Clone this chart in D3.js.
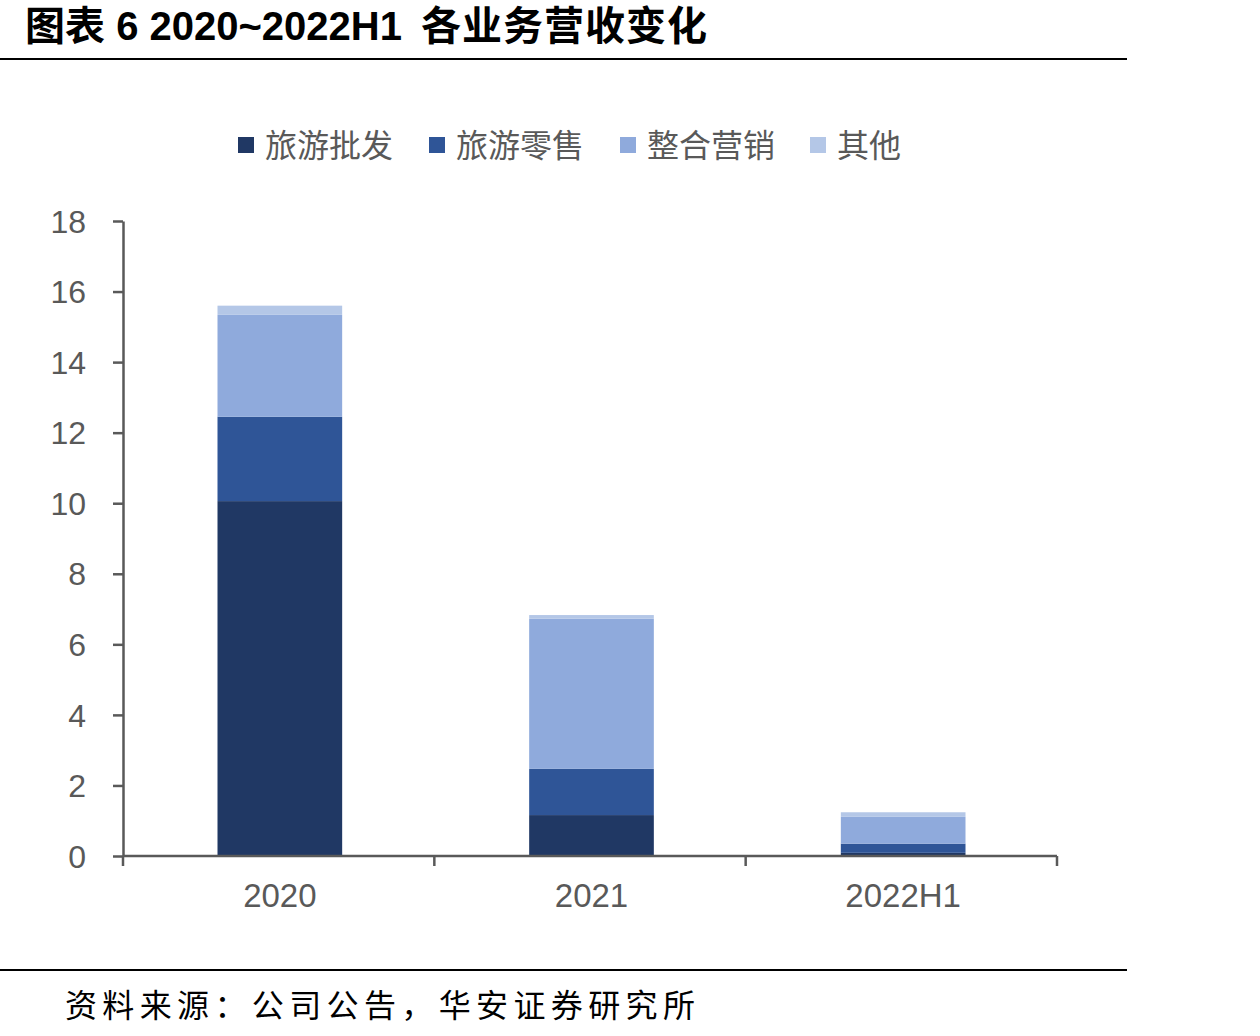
<!DOCTYPE html>
<html><head><meta charset="utf-8">
<script src="https://cdn.jsdelivr.net/npm/d3@7"></script>
<style>body{margin:0;background:#fff}svg{display:block}</style>
</head><body>
<svg id="c" width="1260" height="1036"></svg>
<script>
const categories = ["2020", "2021", "2022H1"];
const seriesNames = ["旅游批发", "旅游零售", "整合营销", "其他"];
const wholesale = [10.06, 1.16, 0.09];
const retail = [2.39, 1.31, 0.26];
const marketing = [2.89, 4.26, 0.76];
const other = [0.26, 0.10, 0.13];
const yTicks = [0, 2, 4, 6, 8, 10, 12, 14, 16, 18];
const colors = ["#203864", "#2F5597", "#8FAADC", "#B4C7E7"];

const svg = d3.select("#c");
const cjk = "'Noto Sans CJK SC', sans-serif";
const axisColor = "#595959";

// title
const title = svg.append("text").attr("x", 25).attr("y", 40)
  .attr("font-family", "'Liberation Sans', Arial, " + cjk).attr("font-weight", "bold")
  .attr("font-size", 40).attr("fill", "#000");
title.append("tspan").text("图表 ");
title.append("tspan").text("6 2020~2022H1 ");
title.append("tspan").attr("dx", 8).attr("letter-spacing", 1).text("各业务营收变化");
svg.append("line").attr("x1", 0).attr("x2", 1127).attr("y1", 59).attr("y2", 59)
  .attr("stroke", "#000").attr("stroke-width", 2);
svg.append("line").attr("x1", 0).attr("x2", 1127).attr("y1", 970).attr("y2", 970)
  .attr("stroke", "#000").attr("stroke-width", 2);
svg.append("text").attr("x", 65).attr("y", 1017)
  .attr("font-family", cjk).attr("font-size", 32).attr("fill", "#000")
  .attr("textLength", 630).attr("lengthAdjust", "spacing")
  .text("资料来源：公司公告，华安证券研究所");

const data = categories.map((c, i) => ({cat: c, s0: wholesale[i], s1: retail[i], s2: marketing[i], s3: other[i]}));
const stack = d3.stack().keys(["s0", "s1", "s2", "s3"])(data);

const x = d3.scaleBand().domain(categories).range([124, 1059]).paddingInner(0.6).paddingOuter(0.3);
const y = d3.scaleLinear().domain([0, 18]).range([856, 221]);

// bars
svg.append("g").selectAll("g").data(stack).join("g")
  .attr("fill", (d, i) => colors[i])
  .selectAll("rect").data(d => d).join("rect")
  .attr("x", d => x(d.data.cat))
  .attr("width", x.bandwidth())
  .attr("y", d => y(d[1]))
  .attr("height", d => y(d[0]) - y(d[1]));

// y axis
const yAxis = svg.append("g").attr("transform", "translate(123,0)")
  .call(d3.axisLeft(y).tickValues(yTicks).tickSize(10).tickSizeOuter(0).tickPadding(27));
yAxis.select(".domain").attr("stroke", axisColor).attr("stroke-width", 2.5);
yAxis.selectAll(".tick line").attr("stroke", axisColor).attr("stroke-width", 2.5);
yAxis.selectAll(".tick text").attr("font-family", "'Liberation Sans', Arial, sans-serif")
  .attr("font-size", 32).attr("fill", axisColor).attr("dy", "0.35em");

// x axis
const xEdge = d3.scaleLinear().domain([0, 3]).range([123, 1057]);
const xAxis = svg.append("g").attr("transform", "translate(0,856)")
  .call(d3.axisBottom(x).tickSize(0).tickPadding(28));
xAxis.select(".domain").attr("stroke", axisColor).attr("stroke-width", 2.5)
  .attr("d", "M123,0H1057");
xAxis.selectAll(".tick text").attr("font-family", "'Liberation Sans', Arial, sans-serif")
  .attr("font-size", 33).attr("fill", axisColor);
svg.append("g").selectAll("line").data([0, 1, 2, 3]).join("line")
  .attr("x1", d => xEdge(d)).attr("x2", d => xEdge(d))
  .attr("y1", 856).attr("y2", 866)
  .attr("stroke", axisColor).attr("stroke-width", 2.5);

// legend
const legendX = [238, 429, 620, 810];
const lg = svg.append("g").selectAll("g").data(seriesNames).join("g")
  .attr("transform", (d, i) => `translate(${legendX[i]},137)`);
lg.append("rect").attr("width", 16).attr("height", 16).attr("fill", (d, i) => colors[i]);
lg.append("text").attr("x", 27).attr("y", 8).attr("dy", "0.36em")
  .attr("font-family", cjk).attr("font-size", 32).attr("fill", "#595959")
  .text(d => d);
</script>
</body></html>
